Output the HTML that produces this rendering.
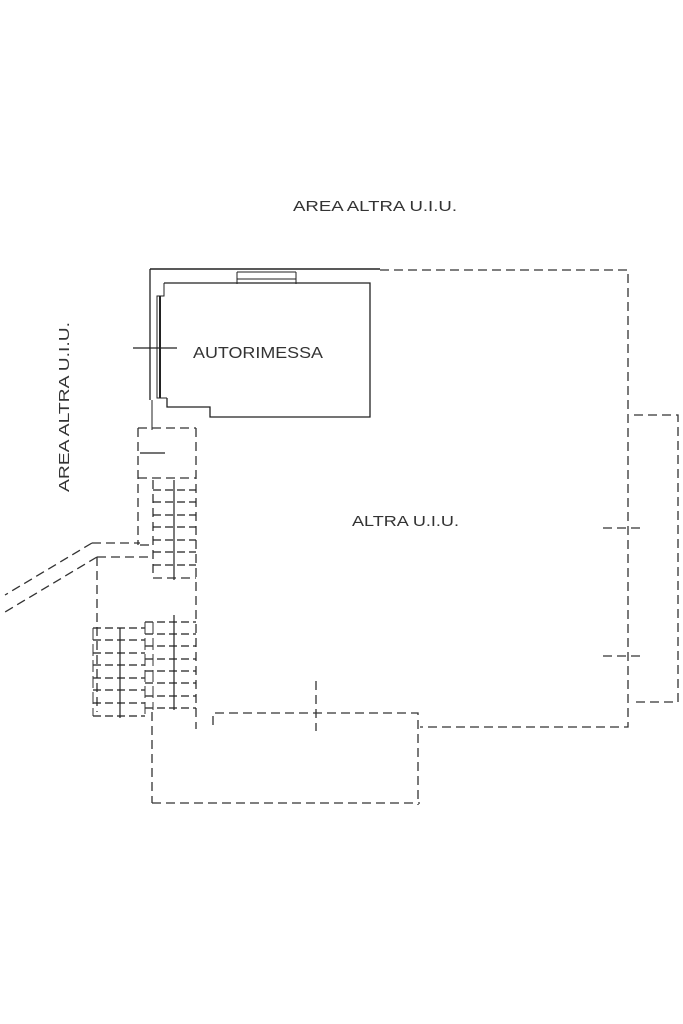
<!DOCTYPE html>
<html><head><style>
html,body{margin:0;padding:0;background:#fff;}
svg{display:block;}
text{font-family:"Liberation Sans",sans-serif;fill:#333;}
</style></head><body>
<svg width="683" height="1024" viewBox="0 0 683 1024" xmlns="http://www.w3.org/2000/svg">
<g fill="none" stroke="#222">
<path d="M150 269 H380" stroke-width="1.5"/>
<path d="M150 269 V400" stroke-width="1.3"/>
<path d="M237 272 H296 M237 279 H296 M237 272 V284 M296 272 V284" stroke-width="1"/>
<path d="M164 283 H370 V417 H210 V407 H167 V398" stroke-width="1.3"/>
<path d="M164 283 V296 H157 V398 H167" stroke-width="1"/>
<path d="M160 296 V398" stroke-width="2"/>
<path d="M133 348 H177" stroke-width="1.2"/>
<path d="M152 400 V430" stroke-width="1"/>
</g>
<g fill="none" stroke="#333" stroke-width="1.3" stroke-dasharray="9 5">
<path d="M380 270 H628 V727 H420"/>
<path d="M634 415 H678 V702 H634"/>
<path d="M603 528 H640 M603 656 H640"/>
<path d="M213 725 V713 H418 V805"/>
<path d="M152 803 H420"/>
<path d="M152 712 V803"/>
<path d="M316 681 V731"/>
<path d="M138 428 H196 M138 428 V545 M196 428 V729"/>
<path d="M138 478 H196"/>
<path d="M92 543 L5 595 M97 557 L5 612"/>
<path d="M92 543 H140 M97 557 H150"/>
<path d="M97 557 V712"/>
<path d="M153 480 V578 H196"/>
<path d="M140 545 H153"/>
</g>
<g stroke="#222" stroke-width="1.3" stroke-dasharray="8 4">
<path d="M153 490 H196 M153 502 H196 M153 515 H196 M153 527 H196 M153 540 H196 M153 552 H196 M153 565 H196"/>
<path d="M93 628 H145 M93 640 H145 M93 653 H145 M93 665 H145 M93 678 H145 M93 690 H145 M93 703 H145 M93 716 H145"/>
<path d="M145 622 H196 M145 634 H196 M145 646 H196 M145 659 H196 M145 671 H196 M145 683 H196 M145 696 H196 M145 708 H196"/>
</g>
<g stroke="#222" stroke-width="1.2">
<path d="M174 480 V580 M120 628 V718 M174 615 V710"/>
<path d="M140 453 H165"/>
</g>
<g stroke="#333" stroke-width="1" stroke-dasharray="12 4">
<path d="M93 628 V716 M153 622 V710 M145 622 V716"/>
</g>
<text x="293" y="211" font-size="15" textLength="164" lengthAdjust="spacingAndGlyphs">AREA ALTRA U.I.U.</text>
<text x="193" y="358" font-size="16" textLength="130" lengthAdjust="spacingAndGlyphs">AUTORIMESSA</text>
<text x="352" y="526" font-size="15" textLength="107" lengthAdjust="spacingAndGlyphs">ALTRA U.I.U.</text>
<text transform="translate(69,492) rotate(-90)" font-size="15" textLength="170" lengthAdjust="spacingAndGlyphs">AREA ALTRA U.I.U.</text>
</svg>
</body></html>
